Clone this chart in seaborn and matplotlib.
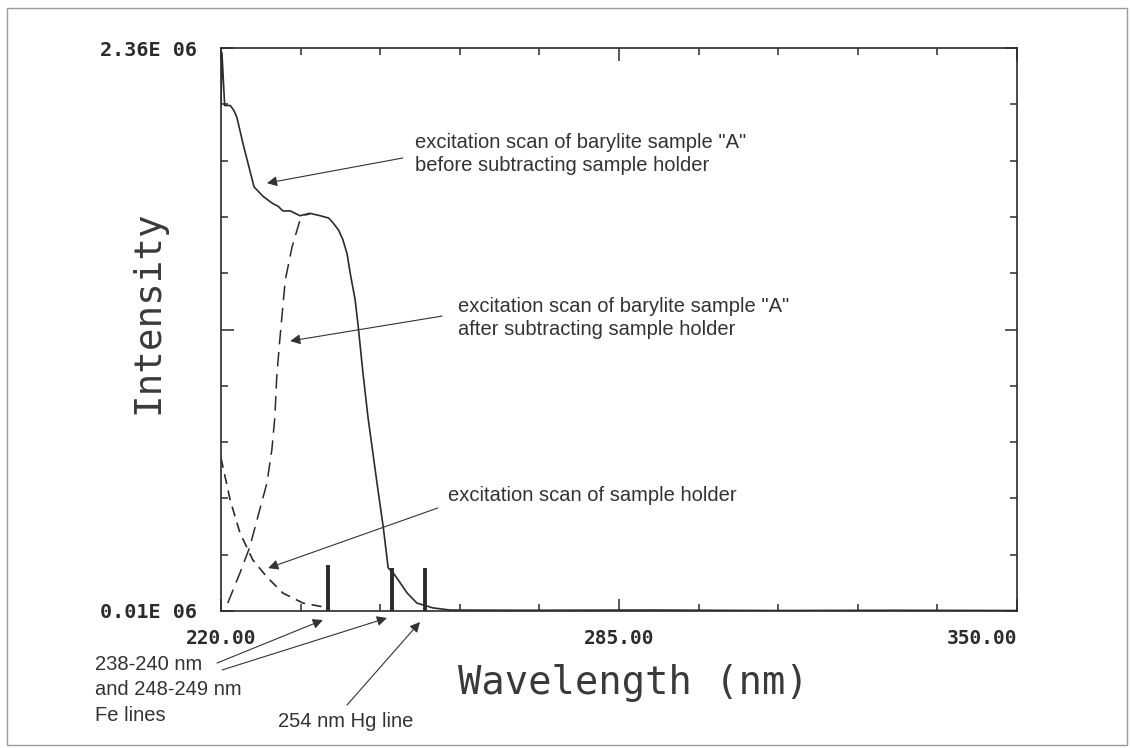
import numpy as np
import pandas as pd
import seaborn as sns
import matplotlib.pyplot as plt
from matplotlib.patches import Rectangle

# intensities in units of 1E06 counts, wavelength in nm
before_nm = [220.0, 220.15, 220.6, 221.0, 221.5, 222.1, 222.6, 223.6, 224.7, 225.4, 226.9,
             228.5, 229.3, 230.1, 231.3, 232.9, 234.5, 236.2, 237.6, 238.3, 239.2, 239.9,
             240.6, 241.1, 241.9, 242.4, 243.2, 244.0, 245.5, 246.5, 247.3, 248.1, 249.2,
             250.4, 252.0, 254.6, 257.4, 270.0, 290.0, 310.0, 330.0, 350.0]
before_int = [2.12, 2.34, 2.12, 2.12, 2.12, 2.10, 2.07, 1.96, 1.85, 1.78, 1.74,
              1.71, 1.70, 1.68, 1.68, 1.66, 1.67, 1.66, 1.65, 1.63, 1.60, 1.56,
              1.50, 1.42, 1.31, 1.20, 1.00, 0.82, 0.54, 0.36, 0.19, 0.17, 0.13,
              0.085, 0.043, 0.023, 0.014, 0.013, 0.014, 0.012, 0.013, 0.012]

after_nm = [221.1, 223.1, 224.7, 226.0, 227.5, 228.3, 228.8, 229.1, 229.6, 230.0,
            230.5, 231.6, 232.9, 233.7, 234.5]
after_int = [0.043, 0.169, 0.277, 0.402, 0.544, 0.682, 0.820, 0.987, 1.141, 1.254,
             1.392, 1.529, 1.642, 1.663, 1.667]

holder_nm = [220.0, 221.5, 223.1, 225.2, 227.5, 230.1, 233.4, 236.7, 237.5]
holder_int = [0.649, 0.473, 0.336, 0.223, 0.152, 0.085, 0.043, 0.027, 0.022]

line_nm = [237.4, 247.9, 253.3]
line_height = [0.202, 0.19, 0.19]

x_ticks = [220, 285, 350]
x_tick_labels = ["220.00", "285.00", "350.00"]
y_ticks = [0.01, 1.185, 2.36]
y_tick_labels = ["0.01E 06", "", "2.36E 06"]

sns.set_style("white")
plt.rcParams['font.family'] = ['DejaVu Sans Mono']

ink = '#2b2b2b'
fig = plt.figure(figsize=(11.3, 7.48), dpi=100)
ax = fig.add_axes([221/1130, 137/748, 796/1130, 563/748])

before = pd.DataFrame({'wavelength': before_nm, 'intensity': before_int})
after = pd.DataFrame({'wavelength': after_nm, 'intensity': after_int})
holder = pd.DataFrame({'wavelength': holder_nm, 'intensity': holder_int})

sns.lineplot(data=before, x='wavelength', y='intensity', ax=ax, color=ink, lw=1.2,
             sort=False, estimator=None)
sns.lineplot(data=after, x='wavelength', y='intensity', ax=ax, color=ink, lw=1.1,
             sort=False, estimator=None, linestyle=(0, (9.5, 5)))
sns.lineplot(data=holder, x='wavelength', y='intensity', ax=ax, color=ink, lw=1.2,
             sort=False, estimator=None, linestyle=(0, (6, 4)))
ax.vlines(line_nm, 0.01, line_height, color=ink, lw=2.8)

ax.set_xlim(220, 350)
ax.set_ylim(0.01, 2.36)
ax.set_xticks(x_ticks)
ax.set_xticklabels(x_tick_labels, fontsize=14, fontweight='bold', color=ink)
ax.set_xticks(np.arange(220, 351, 13), minor=True)
ax.set_yticks(y_ticks)
ax.set_yticklabels(y_tick_labels, fontsize=14.5, fontweight='bold', color=ink)
ax.set_yticks(np.linspace(0.01, 2.36, 11), minor=True)
ax.xaxis.get_majorticklabels()[-1].set_ha('right')
# seaborn's white style hides bottom/left ticks, switch them back on
ax.tick_params(which='both', direction='in', bottom=True, left=True, top=True, right=True,
               color=ink, width=1.1)
ax.tick_params(which='major', length=9)
ax.tick_params(which='minor', length=5)
ax.tick_params(axis='x', which='major', pad=13)
ax.tick_params(axis='y', which='major', pad=17)
for s in ax.spines.values():
    s.set_color(ink)
    s.set_linewidth(1.2)

ax.set_xlabel('Wavelength (nm)', fontsize=28, color='#3a3a3a', va='center')
ax.xaxis.set_label_coords(0.5176, -0.128)
ax.set_ylabel('Intensity', fontsize=27, color='#3a3a3a', va='center')
ax.yaxis.set_label_coords(-0.0917, 0.531)

note = dict(fontsize=14.5, color='#333333', family='Liberation Sans', linespacing=1.25)
arrow = dict(arrowstyle='-|>', lw=0.8, color='#333333', mutation_scale=15,
             shrinkA=0, shrinkB=0)

ax.text(251.7, 1.918, 'excitation scan of barylite sample "A"\nbefore subtracting sample holder',
        ha='left', va='center', **note)
ax.annotate('', xy=(227.5, 1.796), xytext=(249.7, 1.901), arrowprops=arrow)

ax.text(258.7, 1.233, 'excitation scan of barylite sample "A"\nafter subtracting sample holder',
        ha='left', va='center', **note)
ax.annotate('', xy=(231.3, 1.137), xytext=(256.1, 1.241), arrowprops=arrow)

ax.text(257.1, 0.494, 'excitation scan of sample holder', ha='left', va='center', **note)
ax.annotate('', xy=(227.7, 0.189), xytext=(255.4, 0.44), arrowprops=arrow)

fe_note = dict(note, linespacing=1.45)
ax.text(-0.1583, -0.1403, '238-240 nm\nand 248-249 nm\nFe lines', transform=ax.transAxes,
        ha='left', va='center', **fe_note)
ax.annotate('', xy=(0.128, -0.016), xytext=(-0.005, -0.0924), xycoords='axes fraction',
            textcoords='axes fraction', arrowprops=arrow, annotation_clip=False)
ax.annotate('', xy=(0.2085, -0.0124), xytext=(0.0013, -0.1048), xycoords='axes fraction',
            textcoords='axes fraction', arrowprops=arrow, annotation_clip=False)
ax.text(0.0716, -0.197, '254 nm Hg line', transform=ax.transAxes,
        ha='left', va='center', **note)
ax.annotate('', xy=(0.25, -0.0195), xytext=(0.1583, -0.167), xycoords='axes fraction',
            textcoords='axes fraction', arrowprops=arrow, annotation_clip=False)

fig.patches.append(Rectangle((7/1130, 3/748), 1120/1130, 737/748, transform=fig.transFigure,
                             fill=False, edgecolor='#9a9a9a', lw=1))

fig.savefig('out.png', dpi=100)
